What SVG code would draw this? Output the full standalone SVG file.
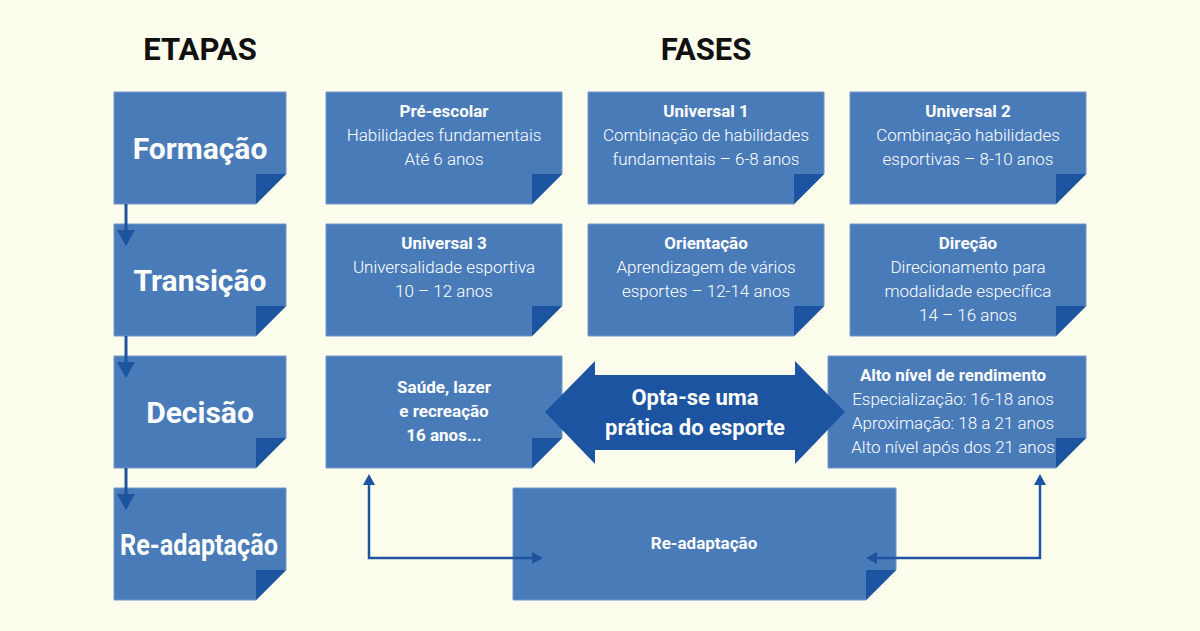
<svg xmlns="http://www.w3.org/2000/svg" width="1200" height="631" viewBox="0 0 1200 631">
<style>
.bg{fill:#fdfdee}
.box{fill:#4a7bb9;stroke:#7098cb;stroke-width:1}
.fold{fill:#1d54a1}
.title{font-family:Roboto,"Liberation Sans",sans-serif;font-weight:700;font-size:31px;fill:#111;text-anchor:middle}
.etapa{font-family:Roboto,"Liberation Sans",sans-serif;font-weight:700;font-size:30px;fill:#fff;text-anchor:middle}
.fb{font-family:Roboto,"Liberation Sans",sans-serif;font-weight:700;font-size:17px;fill:#fff;text-anchor:middle}
.fl{font-family:Roboto,"Liberation Sans",sans-serif;font-weight:300;font-size:17px;fill:#fff;text-anchor:middle}
.big{font-family:Roboto,"Liberation Sans",sans-serif;font-weight:700;font-size:22px;fill:#fff;text-anchor:middle}
.ln{fill:none;stroke:#1d54a1;stroke-width:3}
.ln2{fill:none;stroke:#1d54a1;stroke-width:2.5}
.ah{fill:#1d54a1}
</style>
<rect class="bg" x="0" y="0" width="1200" height="631"/>
<text class="title" x="200" y="60">ETAPAS</text>
<text class="title" x="706" y="60">FASES</text>

<g id="etapa-formacao">
<polygon class="box" points="114,92 286,92 286,174 256,204 114,204"/><polygon class="fold" points="256,174 286,174 256,204"/>
<text class="etapa" x="200" y="159">Formação</text>
</g>
<g id="etapa-transicao">
<polygon class="box" points="114,224 286,224 286,306 256,336 114,336"/><polygon class="fold" points="256,306 286,306 256,336"/>
<text class="etapa" x="200" y="291">Transição</text>
</g>
<g id="etapa-decisao">
<polygon class="box" points="114,356 286,356 286,438 256,468 114,468"/><polygon class="fold" points="256,438 286,438 256,468"/>
<text class="etapa" x="200" y="423">Decisão</text>
</g>
<g id="etapa-readaptacao">
<polygon class="box" points="114,488 286,488 286,570 256,600 114,600"/><polygon class="fold" points="256,570 286,570 256,600"/>
<text class="etapa" x="199" y="555" textLength="158" lengthAdjust="spacingAndGlyphs">Re-adaptação</text>
</g>

<g id="fase-pre-escolar">
<polygon class="box" points="326,92 562,92 562,174 532,204 326,204"/><polygon class="fold" points="532,174 562,174 532,204"/>
<text class="fb" x="444" y="117">Pré-escolar</text>
<text class="fl" x="444" y="141">Habilidades fundamentais</text>
<text class="fl" x="444" y="165">Até 6 anos</text>
</g>
<g id="fase-universal1">
<polygon class="box" points="588,92 824,92 824,174 794,204 588,204"/><polygon class="fold" points="794,174 824,174 794,204"/>
<text class="fb" x="706" y="117">Universal 1</text>
<text class="fl" x="706" y="141">Combinação de habilidades</text>
<text class="fl" x="706" y="165">fundamentais – 6-8 anos</text>
</g>
<g id="fase-universal2">
<polygon class="box" points="850,92 1086,92 1086,174 1056,204 850,204"/><polygon class="fold" points="1056,174 1086,174 1056,204"/>
<text class="fb" x="968" y="117">Universal 2</text>
<text class="fl" x="968" y="141">Combinação habilidades</text>
<text class="fl" x="968" y="165">esportivas – 8-10 anos</text>
</g>
<g id="fase-universal3">
<polygon class="box" points="326,224 562,224 562,306 532,336 326,336"/><polygon class="fold" points="532,306 562,306 532,336"/>
<text class="fb" x="444" y="249">Universal 3</text>
<text class="fl" x="444" y="273">Universalidade esportiva</text>
<text class="fl" x="444" y="297">10 – 12 anos</text>
</g>
<g id="fase-orientacao">
<polygon class="box" points="588,224 824,224 824,306 794,336 588,336"/><polygon class="fold" points="794,306 824,306 794,336"/>
<text class="fb" x="706" y="249">Orientação</text>
<text class="fl" x="706" y="273">Aprendizagem de vários</text>
<text class="fl" x="706" y="297">esportes – 12-14 anos</text>
</g>
<g id="fase-direcao">
<polygon class="box" points="850,224 1086,224 1086,306 1056,336 850,336"/><polygon class="fold" points="1056,306 1086,306 1056,336"/>
<text class="fb" x="968" y="249">Direção</text>
<text class="fl" x="968" y="273">Direcionamento para</text>
<text class="fl" x="968" y="297">modalidade específica</text>
<text class="fl" x="968" y="321">14 – 16 anos</text>
</g>
<g id="fase-saude">
<polygon class="box" points="326,356 562,356 562,438 532,468 326,468"/><polygon class="fold" points="532,438 562,438 532,468"/>
<text class="fb" x="444" y="393">Saúde, lazer</text>
<text class="fb" x="444" y="417">e recreação</text>
<text class="fb" x="444" y="441">16 anos...</text>
</g>
<g id="fase-alto-nivel">
<polygon class="box" points="828,356 1086,356 1086,438 1056,468 828,468"/><polygon class="fold" points="1056,438 1086,438 1056,468"/>
<text class="fb" x="953" y="381">Alto nível de rendimento</text>
<text class="fl" x="953" y="405">Especialização: 16-18 anos</text>
<text class="fl" x="953" y="429">Aproximação: 18 a 21 anos</text>
<text class="fl" x="953" y="453">Alto nível após dos 21 anos</text>
</g>
<g id="opta">
<polygon class="fold" points="545,412 595,361 595,375 795,375 795,361 845,412 795,464 795,450 595,450 595,464"/>
<text class="big" x="695" y="405">Opta-se uma</text>
<text class="big" x="695" y="435">prática do esporte</text>
</g>
<g id="fase-readaptacao">
<polygon class="box" points="513,488 896,488 896,570 866,600 513,600"/><polygon class="fold" points="866,570 896,570 866,600"/>
<text class="fb" x="704" y="549">Re-adaptação</text>
</g>

<g id="connectors">
<path class="ln" d="M126 204V232"/><polygon class="ah" points="117,230 135,230 126,246"/>
<path class="ln" d="M126 336V364"/><polygon class="ah" points="117,362 135,362 126,378"/>
<path class="ln" d="M126 468V496"/><polygon class="ah" points="117,494 135,494 126,510"/>
<path class="ln2" d="M369 483V558H533"/>
<polygon class="ah" points="363,485 375,485 369,474"/>
<polygon class="ah" points="532,552 532,564 543,558"/>
<path class="ln2" d="M1040 483V558H876"/>
<polygon class="ah" points="1034,485 1046,485 1040,474"/>
<polygon class="ah" points="877,552 877,564 866,558"/>
</g>
</svg>
